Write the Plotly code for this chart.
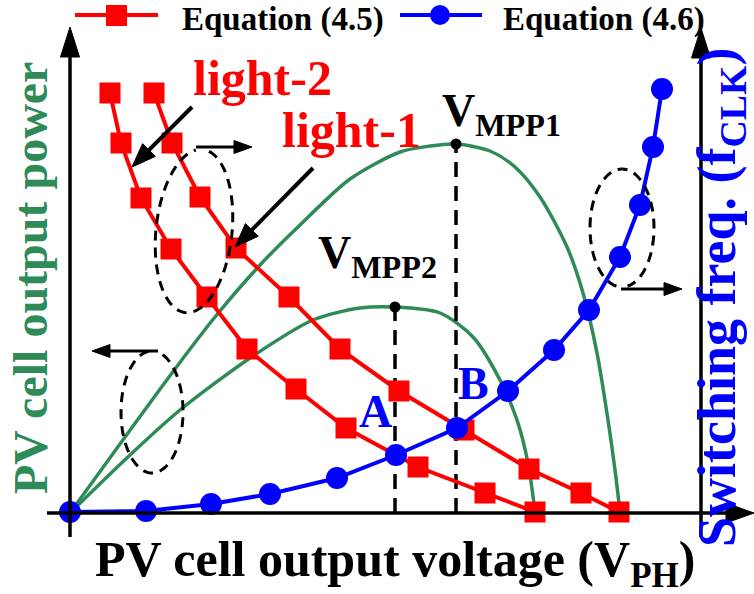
import math
import numpy as np
import plotly.graph_objects as go

# ---- data (normalised units, origin of both axes at 0) ----
# PV cell output power vs. voltage for the two light levels
v_pv_light1 = [0, 1.02, 1.45, 1.90, 2.30, 2.80, 3.30, 3.60, 3.86, 4.20, 4.45, 4.70, 4.97, 5.13, 5.27, 5.38, 5.45, 5.50]
p_pv_light1 = [0, 1.40, 1.96, 2.48, 2.88, 3.34, 3.61, 3.67, 3.69, 3.62, 3.46, 3.16, 2.66, 2.20, 1.60, 0.93, 0.43, 0.01]
v_pv_light2 = [0, 0.60, 1.10, 1.83, 2.43, 2.90, 3.25, 3.70, 4.03, 4.30, 4.47, 4.58, 4.65]
p_pv_light2 = [0, 0.58, 1.03, 1.57, 1.93, 2.05, 2.06, 2.00, 1.76, 1.33, 0.93, 0.50, 0.01]

# maximum power points (light-1, light-2)
v_mpp = [3.86, 3.25]
p_mpp = [3.69, 2.06]

# Equation (4.5): switching frequency vs. voltage for each light level
v_eq45_light2 = [0.40, 0.51, 0.71, 1.01, 1.37, 1.77, 2.26, 2.76, 3.48, 4.15, 4.65]
f_eq45_light2 = [4.20, 3.70, 3.15, 2.64, 2.16, 1.64, 1.24, 0.85, 0.46, 0.20, 0.01]
v_eq45_light1 = [0.84, 1.02, 1.30, 1.66, 2.19, 2.70, 3.29, 3.94, 4.59, 5.11, 5.49]
f_eq45_light1 = [4.20, 3.70, 3.16, 2.65, 2.16, 1.64, 1.22, 0.83, 0.44, 0.20, 0.01]

# Equation (4.6): switching frequency vs. voltage
v_eq46 = [0.00, 0.76, 1.41, 2.00, 2.67, 3.26, 3.87, 4.38, 4.84, 5.19, 5.50, 5.70, 5.83, 5.92]
f_eq46 = [0.01, 0.02, 0.09, 0.19, 0.35, 0.58, 0.85, 1.22, 1.63, 2.03, 2.56, 3.08, 3.66, 4.24]

# ---- styling ----
W, H = 754, 594
X_RANGE = [-0.70, 6.84]
Y_RANGE = [-0.81, 5.13]
GREEN = "#2e8b57"
RED = "#ff0000"
BLUE = "#0000ff"
FONT = "Liberation Serif"


def fx(px):
    return px / W


def fy(py):
    return 1 - py / H


fig = go.Figure()

for v, p in ((v_pv_light1, p_pv_light1), (v_pv_light2, p_pv_light2)):
    fig.add_trace(go.Scatter(x=v, y=p, mode="lines",
                             line=dict(color=GREEN, width=3.5, shape="spline", smoothing=0.8)))

for v, p in zip(v_mpp, p_mpp):
    fig.add_trace(go.Scatter(x=[v, v], y=[0, p], mode="lines",
                             line=dict(color="black", width=3.5, dash="15px,9px")))
fig.add_trace(go.Scatter(x=v_mpp, y=p_mpp, mode="markers",
                         marker=dict(color="black", size=11)))

for v, f in ((v_eq45_light2, f_eq45_light2), (v_eq45_light1, f_eq45_light1)):
    fig.add_trace(go.Scatter(x=v, y=f, yaxis="y2", mode="lines+markers",
                             line=dict(color=RED, width=4),
                             marker=dict(color=RED, symbol="square", size=21)))

fig.add_trace(go.Scatter(x=v_eq46, y=f_eq46, yaxis="y2", mode="lines+markers",
                         line=dict(color=BLUE, width=4),
                         marker=dict(color=BLUE, symbol="circle", size=22)))

shapes = []


def arrow(x0, y0, x1, y1, lw, hl, hw):
    dx, dy = x1 - x0, y1 - y0
    L = math.hypot(dx, dy)
    ux, uy = dx / L, dy / L
    bx, by = x1 - ux * hl, y1 - uy * hl
    nx, ny = -uy, ux
    shapes.append(dict(type="line", xref="paper", yref="paper",
                       x0=fx(x0), y0=fy(y0), x1=fx(bx + ux * 2), y1=fy(by + uy * 2),
                       line=dict(color="black", width=lw)))
    pts = [(x1, y1), (bx + nx * hw / 2, by + ny * hw / 2), (bx - nx * hw / 2, by - ny * hw / 2)]
    path = "M " + " L ".join(f"{fx(a):.5f},{fy(b):.5f}" for a, b in pts) + " Z"
    shapes.append(dict(type="path", xref="paper", yref="paper", path=path,
                       fillcolor="black", line=dict(color="black", width=1)))


def ellipse(cx, cy, rx, ry, theta_deg, gap_from, gap_to):
    th = math.radians(theta_deg)
    t = np.radians(np.linspace(gap_to, gap_from + 360, 120))
    ex, ey = rx * np.cos(t), ry * np.sin(t)
    X = cx + ex * math.cos(th) - ey * math.sin(th)
    Y = cy + ex * math.sin(th) + ey * math.cos(th)
    path = "M " + " L ".join(f"{fx(a):.5f},{fy(b):.5f}" for a, b in zip(X, Y))
    shapes.append(dict(type="path", xref="paper", yref="paper", path=path,
                       line=dict(color="black", width=3, dash="10px,7px")))


# axes with arrowheads
arrow(47, 513, 754, 513, 3.5, 28, 20)
arrow(70, 537, 70, 27, 3.5, 30, 19)
arrow(701, 537, 701, 28, 3.5, 30, 19)

# pointer arrows for the light labels
arrow(192, 107, 132, 167, 4, 24, 18)
arrow(313, 168, 235, 247, 4, 24, 18)

# dashed groupings and the axis they refer to
ellipse(194, 231, 38, 82, 6, -100, -80)
arrow(196, 147, 252, 147, 3, 18, 13)
ellipse(152, 412, 31, 61, 0, -95, -70)
arrow(158, 351, 92, 351, 3, 18, 13)
ellipse(622, 228, 32, 59, 0, 80, 100)
arrow(621, 289, 682, 289, 3, 18, 13)

# legend keys
shapes.append(dict(type="line", xref="paper", yref="paper", x0=fx(75), y0=fy(15), x1=fx(158), y1=fy(15),
                   line=dict(color=RED, width=4)))
shapes.append(dict(type="rect", xref="paper", yref="paper", x0=fx(106), y0=fy(5), x1=fx(127), y1=fy(26),
                   fillcolor=RED, line=dict(color=RED, width=0)))
shapes.append(dict(type="line", xref="paper", yref="paper", x0=fx(400), y0=fy(15), x1=fx(482), y1=fy(15),
                   line=dict(color=BLUE, width=4)))
shapes.append(dict(type="circle", xref="paper", yref="paper", x0=fx(430), y0=fy(5), x1=fx(450), y1=fy(25),
                   fillcolor=BLUE, line=dict(color=BLUE, width=0)))

annotations = []


def label(text, x, y, size, color, angle=0):
    annotations.append(dict(text=text, xref="paper", yref="paper", x=fx(x), y=fy(y),
                            xanchor="center", yanchor="middle", showarrow=False, textangle=angle,
                            font=dict(family=FONT, size=size, color=color, weight="bold")))


label("Equation (4.5)", 283, 19, 33, "black")
label("Equation (4.6)", 604, 19, 33, "black")
label("light-2", 262, 78, 50, RED)
label("light-1", 351, 130, 50, RED)
label("V<sub>MPP1</sub>", 502, 114, 46, "black")
label("V<sub>MPP2</sub>", 377, 256, 46, "black")
label("A", 375, 412, 46, BLUE)
label("B", 473, 383, 46, BLUE)
label("PV cell output voltage (V<sub>PH</sub>)", 395, 563, 50, "black")
label("PV cell output power", 30, 278, 48, GREEN, -90)
label("Switching freq. (f<sub>CLK</sub>)", 720, 298, 54, BLUE, -90)

fig.update_layout(
    width=W, height=H,
    margin=dict(l=0, r=0, t=0, b=0),
    paper_bgcolor="white", plot_bgcolor="white",
    showlegend=False,
    xaxis=dict(range=X_RANGE, visible=False),
    yaxis=dict(range=Y_RANGE, visible=False),
    yaxis2=dict(range=Y_RANGE, visible=False, overlaying="y", side="right"),
    shapes=shapes,
    annotations=annotations,
)

fig.write_html("out.html")
